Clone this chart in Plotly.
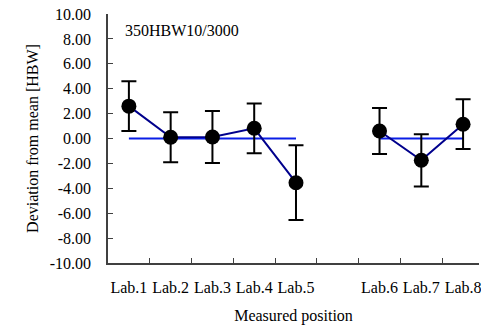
import plotly.graph_objects as go

categories = ["Lab.1", "Lab.2", "Lab.3", "Lab.4", "Lab.5", " ", "Lab.6", "Lab.7", "Lab.8"]
group1_labs = ["Lab.1", "Lab.2", "Lab.3", "Lab.4", "Lab.5"]
group1_dev = [2.6, 0.1, 0.12, 0.82, -3.55]
group1_err = [2.0, 2.0, 2.08, 2.0, 3.0]
group2_labs = ["Lab.6", "Lab.7", "Lab.8"]
group2_dev = [0.6, -1.75, 1.15]
group2_err = [1.85, 2.1, 2.0]
mean_value = 0.0
y_ticks = [-10, -8, -6, -4, -2, 0, 2, 4, 6, 8, 10]
annotation_text = "350HBW10/3000"

FONT = "Liberation Serif"
FS = 16

fig = go.Figure()

for labs, dev, err in [(group1_labs, group1_dev, group1_err), (group2_labs, group2_dev, group2_err)]:
    fig.add_trace(go.Scatter(x=labs, y=[mean_value] * len(labs), mode="lines",
                             line=dict(color="#0a1ee6", width=2.2), showlegend=False, hoverinfo="skip"))
    fig.add_trace(go.Scatter(x=labs, y=dev, mode="lines",
                             line=dict(color="#00008c", width=2), showlegend=False, hoverinfo="skip"))
    fig.add_trace(go.Scatter(x=labs, y=dev, mode="markers",
                             marker=dict(color="black", size=15),
                             error_y=dict(type="data", array=err, visible=True,
                                          color="black", thickness=2, width=7.5),
                             showlegend=False))

fig.add_annotation(text=annotation_text, xref="paper", yref="paper", x=0.04, y=0.935,
                   xanchor="left", yanchor="middle", showarrow=False,
                   font=dict(family=FONT, size=FS, color="black"))

fig.update_xaxes(type="category", categoryorder="array", categoryarray=categories,
                 range=[-0.5, 8.381], tickson="boundaries", ticks="inside", ticklen=5,
                 tickcolor="#404040", showline=True, linecolor="#404040", linewidth=1.5,
                 showgrid=False, zeroline=False, ticklabelstandoff=9, tickangle=0,
                 ticklabeloverflow="allow",
                 tickfont=dict(family=FONT, size=FS, color="black"),
                 title=dict(text="Measured position", standoff=15,
                            font=dict(family=FONT, size=FS, color="black")))

fig.update_yaxes(range=[-10, 10], tickvals=y_ticks,
                 ticktext=[f"{v:.2f}" for v in y_ticks],
                 ticks="inside", ticklen=5, tickcolor="#404040",
                 showline=True, linecolor="#404040", linewidth=1.5,
                 showgrid=False, zeroline=False, ticklabelstandoff=12,
                 ticklabeloverflow="allow",
                 tickfont=dict(family=FONT, size=FS, color="black"),
                 title=dict(text="Deviation from mean [HBW]", standoff=7,
                            font=dict(family=FONT, size=FS, color="black")))

fig.update_layout(width=481, height=329, margin=dict(l=108, r=0, t=14, b=66),
                  plot_bgcolor="white", paper_bgcolor="white")

# remove the default 8px page margin so the figure fills the window exactly
fig.write_html("out.html", config={"displayModeBar": False},
               post_script="document.body.style.margin='0';document.body.style.overflow='hidden';")
